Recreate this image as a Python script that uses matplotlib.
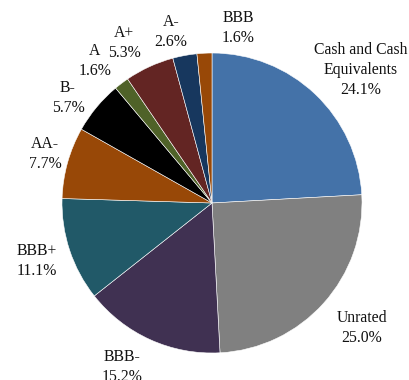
import matplotlib.pyplot as plt

plt.rcParams['font.family'] = ['Liberation Serif', 'DejaVu Serif']

ratings = ['Cash and Cash\nEquivalents', 'Unrated', 'BBB-', 'BBB+', 'AA-',
           'B-', 'A', 'A+', 'A-', 'BBB']
shares = [24.1, 25.0, 15.2, 11.1, 7.7, 5.7, 1.6, 5.3, 2.6, 1.6]
colors = ['#4472A8', '#808080', '#403152', '#215968', '#984807',
          '#000000', '#4F6228', '#632523', '#17375E', '#984807']

# label anchor points around the pie (data units, pie radius = 1)
label_pos = [(0.99, 0.887), (1.0, -0.833), (-0.6, -1.093), (-1.167, -0.387),
             (-1.113, 0.327), (-0.96, 0.70), (-0.78, 0.947), (-0.587, 1.067),
             (-0.273, 1.14), (0.173, 1.167)]

fig = plt.figure(figsize=(4.1, 3.8), dpi=100)
ax = fig.add_axes([62 / 410, 27 / 380, 300 / 410, 300 / 380])

ax.pie(shares, colors=colors, startangle=90, counterclock=False, radius=1,
       wedgeprops=dict(edgecolor='white', linewidth=0.4))
ax.set_xlim(-1, 1)
ax.set_ylim(-1, 1)
ax.set_aspect('auto')
ax.axis('off')

for name, val, (x, y) in zip(ratings, shares, label_pos):
    ax.text(x, y, f'{name}\n{val:.1f}%', ha='center', va='center',
            fontsize=11.3, linespacing=1.35, color='#111111')

fig.savefig('out.png', dpi=100)
